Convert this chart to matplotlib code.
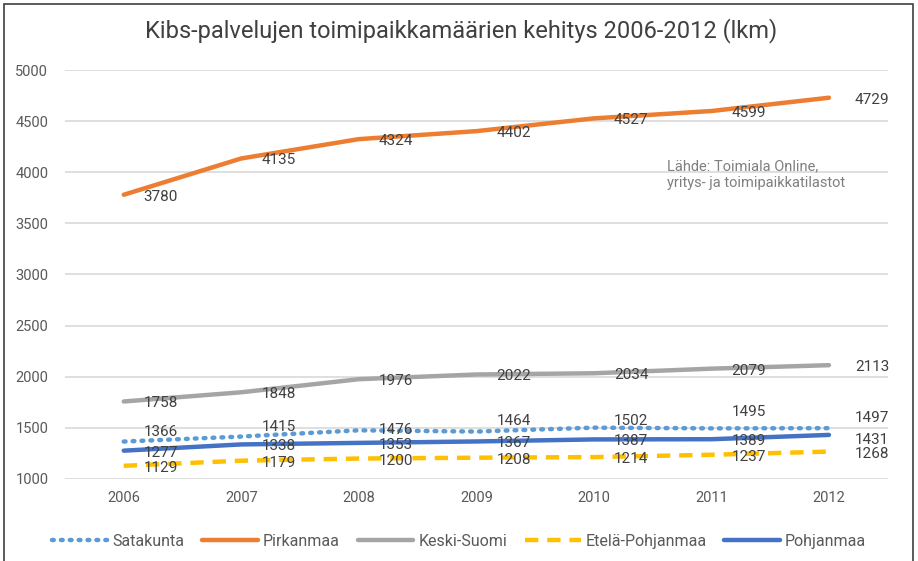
import matplotlib
matplotlib.use("Agg")
import matplotlib.pyplot as plt
from matplotlib.patches import Rectangle

plt.rcParams['font.family'] = ['Roboto', 'DejaVu Sans']

years = ['2006', '2007', '2008', '2009', '2010', '2011', '2012']
satakunta = [1366, 1415, 1476, 1464, 1502, 1495, 1497]
pirkanmaa = [3780, 4135, 4324, 4402, 4527, 4599, 4729]
keski_suomi = [1758, 1848, 1976, 2022, 2034, 2079, 2113]
etela_pohjanmaa = [1129, 1179, 1200, 1208, 1214, 1237, 1268]
pohjanmaa = [1277, 1338, 1353, 1367, 1387, 1389, 1431]

title = 'Kibs-palvelujen toimipaikkamäärien kehitys 2006-2012 (lkm)'
source = 'Lähde: Toimiala Online,\nyritys- ja toimipaikkatilastot'

# label shift in pixels (vertical), per series
series = [
    ('Satakunta', satakunta, '#5B9BD5', (0, (0.4, 1.6)), [10, 10, 0, 11, 7, 16, 10]),
    ('Pirkanmaa', pirkanmaa, '#ED7D31', '-', [-2] * 7),
    ('Keski-Suomi', keski_suomi, '#A5A5A5', '-', [-2] * 7),
    ('Etelä-Pohjanmaa', etela_pohjanmaa, '#FFC000', (0, (3, 2)), [-2] * 7),
    ('Pohjanmaa', pohjanmaa, '#4472C4', '-', [-2] * 6 + [-5]),
]

fig = plt.figure(figsize=(9.18, 5.61), dpi=100)
ax = fig.add_axes([0.0708, 0.1462, 0.967 - 0.0708, 0.8752 - 0.1462])

x = list(range(len(years)))
for name, vals, color, ls, shifts in series:
    capstyle = 'round' if name == 'Satakunta' else 'butt'
    ax.plot(x, vals, color=color, linestyle=ls, linewidth=3.2, label=name,
            solid_capstyle='round', dash_capstyle=capstyle, zorder=3)
    for i, v in enumerate(vals):
        dx = 20 if i < len(vals) - 1 else 26
        ax.annotate(str(v), (i, v), xytext=(dx, shifts[i]), textcoords='offset pixels',
                    ha='left', va='center', fontsize=11, color='#404040', zorder=4)

ax.set_xlim(-0.5, 6.5)
ax.set_ylim(1000, 5000)
ax.set_yticks(range(1000, 5001, 500))
ax.set_xticks(x)
ax.set_xticklabels(years)
ax.tick_params(axis='both', length=0, labelsize=10.5, colors='#595959')
ax.tick_params(axis='y', pad=12)
ax.tick_params(axis='x', pad=9)
ax.grid(axis='y', color='#D9D9D9', linewidth=1.2)
ax.set_axisbelow(True)
for s in ax.spines.values():
    s.set_visible(False)

ax.text(0.732, 0.745, source, transform=ax.transAxes, fontsize=10.5,
        color='#7F7F7F', va='center', ha='left', linespacing=1.25)

fig.text(0.502, 0.945, title, ha='center', va='center', fontsize=17, color='#404040')

leg = fig.legend(loc='center', bbox_to_anchor=(0.5, 0.035), ncol=5, frameon=False,
                 fontsize=11.5, handlelength=3.5, columnspacing=1.1, handletextpad=0.3)
for t in leg.get_texts():
    t.set_color('#595959')

fig.patches.append(Rectangle((4 / 918, -0.05), (913 - 4) / 918, 1.05 - 4 / 561,
                             transform=fig.transFigure, fill=False,
                             edgecolor='#404040', linewidth=1.2, clip_on=False))

fig.savefig('out.png', dpi=100)
